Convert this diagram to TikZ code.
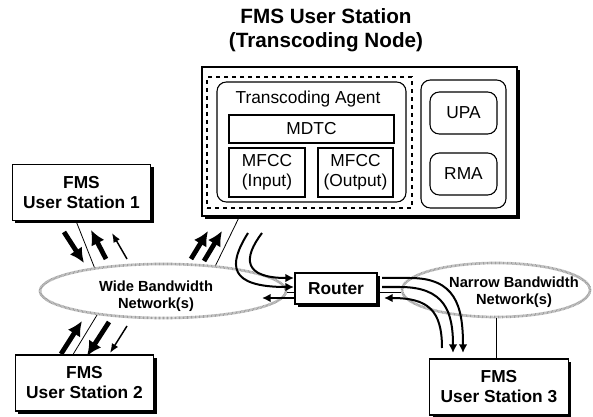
\documentclass[tikz,border=0pt]{standalone}
\usepackage{fontspec}
\setmainfont{Liberation Sans}
\usetikzlibrary{shapes.geometric}
\usetikzlibrary{shapes.misc}
\usetikzlibrary{positioning}
\usetikzlibrary{shadows}
\usetikzlibrary{arrows.meta}

\begin{document}
\begin{tikzpicture}[
    x=0.75pt, y=-0.75pt,
    every node/.style={
        font=\fontsize{13}{15}\selectfont,
        inner sep=0pt
    },
    station/.style={
        minimum width=104pt, minimum height=42pt,
        align=center,
        font=\fontsize{13}{15}\selectfont\bfseries,
        rectangle,
        draw, line width=0.8pt, fill=white,
        drop shadow={shadow xshift=2.2pt, shadow yshift=-2.2pt, opacity=1, fill=black}
    },
    module/.style={
        align=center,
        rectangle,
        draw, line width=0.8pt
    },
    agent/.style={
        align=center,
        rectangle, rounded corners=7pt,
        draw, line width=0.8pt
    },
    network/.style={
        ellipse,
        draw=gray!75, line width=2pt,
        dash pattern=on 0.6pt off 0.4pt
    },
    netlabel/.style={
        align=center,
        font=\fontsize{11}{12.75}\selectfont\bfseries
    },
    link/.style={
        line width=0.6pt
    },
    fatarrow/.style={
        line width=3.6pt, -{Latex[length=11pt,width=11pt]}
    },
    thinarrow/.style={
        line width=1.1pt, -{Latex[length=7pt,width=5.5pt]}
    },
    flow/.style={
        line width=1.5pt, -{Latex[length=6.5pt,width=6.5pt]}
    }
]
\useasboundingbox (0,0) rectangle (593,417);

% transcoding node
\node (title) at (326,30) [align=center, font=\fontsize{15.5}{18}\selectfont\bfseries]
    {FMS User Station\\(Transcoding Node)};
\node (big)    at (359.5,141.5) [station, minimum width=236.25pt, minimum height=111.75pt] {};
\node (dash)   at (309.5,142.5) [module, dashed, minimum width=153.75pt, minimum height=98.25pt] {};
\node (agent)  at (311.5,142)   [agent, minimum width=141.75pt, minimum height=90pt] {};
\node (agentname) at (308,99) {Transcoding Agent};
\node (mdtc)   at (311.5,129)   [module, minimum width=123.75pt, minimum height=21pt] {MDTC};
\node (mfccin) at (267,172.5)   [module, minimum width=57pt, minimum height=36.75pt] {MFCC\\(Input)};
\node (mfccout) at (355.5,172.5) [module, minimum width=56.25pt, minimum height=36.75pt] {MFCC\\(Output)};
\node (side)   at (463.5,144)   [agent, minimum width=63.75pt, minimum height=96pt] {};
\node (upa)    at (463.5,113)   [agent, minimum width=50.25pt, minimum height=31.5pt] {UPA};
\node (rma)    at (463.5,174)   [agent, minimum width=50.25pt, minimum height=31.5pt] {RMA};

% stations, router, networks
\node (st1)    at (81.5,192.5)  [station] {FMS\\User Station 1};
\node (st2)    at (84.5,383)    [station] {FMS\\User Station 2};
\node (st3)    at (499,387)     [station] {FMS\\User Station 3};
\node (router) at (336,288.5)   [station, minimum width=61.5pt, minimum height=23.25pt] {Router};
\node (wide)   at (163,291)     [network, minimum width=184.5pt, minimum height=40.5pt] {};
\node (narrow) at (496,290)     [network, minimum width=141pt, minimum height=40.5pt] {};
\node (widename)   at (156,296) [netlabel] {Wide Bandwidth\\Network(s)};
\node (narrowname) at (514,292) [netlabel] {Narrow Bandwidth\\Network(s)};

\draw[link] ([xshift=-4.1pt]st1.south) -- (wide.161);
\draw[link] ([xshift=-8.6pt]st2.north) -- (wide.200);
\draw[link] ([xshift=28.5pt]big.south west) -- (wide.26);
\draw[link] ([yshift=-2.6pt]router.west) -- ([yshift=-2.6pt]router.west -| wide.east);
\draw[link] ([yshift=-2.6pt]router.east) -- ([yshift=-2.6pt]router.east -| narrow.west);
\draw[link] (narrow.south) -- (narrow.south |- st3.north);

% traffic
\draw[fatarrow] (64,232) -- (84,263);
\draw[fatarrow] (106,259) -- (91,230);
\draw[thinarrow] (127,259) -- (112,233);

\draw[fatarrow] (61,354) -- (82,321);
\draw[fatarrow] (109,322) -- (87,356);
\draw[thinarrow] (127,326) -- (110,353);

\draw[fatarrow] (191,259) -- (208,231);
\draw[fatarrow] (204,261) -- (222,231);

\draw[flow] (248,233) .. controls (228,265) and (228,287) .. (294,287);
\draw[flow] (262,233) .. controls (243,258) and (243,278) .. (294,278);
\draw[flow] (294,298) -- (262,298);

\draw[flow] (382,278) -- (410,278) .. controls (455,278) and (463,305) .. (463,353);
\draw[flow] (382,287) -- (400,287) .. controls (445,287) and (453,312) .. (453,353);
\draw[flow] (442,348) .. controls (442,310) and (428,298) .. (384,298);
\end{tikzpicture}
\end{document}
